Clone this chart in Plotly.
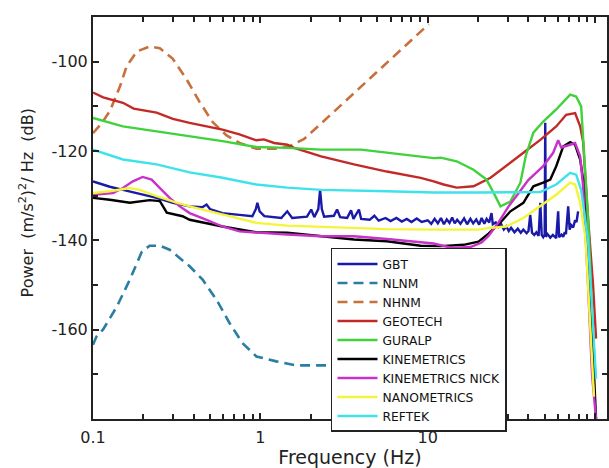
import plotly.graph_objects as go

# ---------------- data (frequency in Hz, power in dB) ----------------
GBT_f = [0.1, 0.126, 0.151, 0.2, 0.24, 0.3, 0.378, 0.45, 0.477, 0.5, 0.594, 0.75, 0.896, 0.94, 0.96, 0.99,
         1.057, 1.334, 1.448, 1.55, 1.9, 2.013, 2.1, 2.22, 2.275, 2.33, 2.404, 2.75, 2.873, 3.0, 3.3, 3.482,
         3.6, 3.882, 4.0, 4.5, 4.8, 5.1, 5.6, 6.0, 6.5, 7.0, 7.5, 8.0, 8.6, 9.2,
         10.0, 10.5, 11, 11.5, 12, 12.5, 13, 13.5, 14, 14.5, 15, 15.7, 16.5, 17.2, 18, 18.7, 19.5, 20.3,
         21, 21.8, 22.5, 23.3, 24.06, 24.5, 25.5, 26.5, 27.5, 28.5, 29.5, 30.5, 31.5, 33, 34.5, 36, 37.3,
         39, 40, 41.0, 42, 43.3, 44.6, 46, 47.1, 48, 49, 50.0, 50.4, 50.8, 52, 54.0, 56, 58.6, 60.2, 61,
         63, 64.5, 66, 67, 69.1, 70.5, 72, 74.0, 76, 77.5, 79.2]
GBT_db = [-126.8, -128, -128.7, -129.8, -130.5, -131.6, -132.4, -132.6, -132.0, -133.0, -133.9, -134.3, -134.6,
          -133, -131.6, -133.5, -134.6, -135.0, -133.5, -135.0, -134.7, -133.1, -134.8, -133, -128.7, -133,
          -134.7, -134.5, -133.1, -134.8, -135.0, -133.3, -135.2, -133.1, -135.2, -135.4, -134.5, -135.6,
          -135.0, -135.7, -135.0, -135.8, -135.2, -135.9, -135.1, -135.9,
          -135.5, -136.3, -135.2, -136.2, -135.0, -136.4, -135.3, -136.1, -134.9, -136.2, -135.4, -136.3,
          -135.1, -136.4, -135.2, -136.2, -135.3, -136.5, -135.0, -136.3, -135.2, -136.0, -133.9, -136.4,
          -136.0, -137.0, -136.4, -137.6, -136.9, -137.9, -137.2, -138.2, -137.4, -138.3, -137.6, -138.4,
          -137.9, -134.3, -138.3, -138.8, -138.2, -139.0, -131.6, -138.8, -139.3, -138.7, -113.7, -139.2,
          -138.6, -139.4, -138.8, -139.5, -133.5, -139.3, -138.7, -139.2, -138.2, -138.6, -132.4, -137.6,
          -136.6, -137.1, -135.5, -135.9, -133.5]

NLNM_f = [0.1, 0.105, 0.1147, 0.139, 0.166, 0.196, 0.218, 0.251, 0.287, 0.378, 0.452, 0.547, 0.654,
          0.781, 0.947, 1.245, 1.638, 2.339, 5, 10]
NLNM_db = [-163.4, -161.5, -160, -154.8, -148.8, -142.5, -141.2, -141.2, -142.1, -145.8, -148.8, -153.3,
           -158.5, -163, -166, -167.1, -168, -168, -168, -168]

NHNM_f = [0.1, 0.113, 0.126, 0.135, 0.145, 0.159, 0.183, 0.218, 0.251, 0.299, 0.363, 0.433, 0.518, 0.628,
          0.75, 0.947, 1.21, 1.489, 1.827, 2.575, 3.882, 5.86, 7.71, 10.14]
NHNM_db = [-116, -113.7, -111.1, -108.5, -105.5, -101, -97.7, -96.6, -97, -99.3, -104, -109, -113.5, -116.5,
           -118.2, -119.5, -119.5, -119, -117.3, -112.2, -106.0, -99.8, -95.7, -91.6]

GEOTECH_f = [0.1, 0.115, 0.151, 0.175, 0.24, 0.3, 0.378, 0.45, 0.594, 0.75, 0.947, 1.05, 1.21, 1.45, 1.593,
             2.307, 3.629, 5.70, 9.08, 10.86, 12.45, 14.89, 18.79, 23.73, 29.5, 37.3, 47.1, 58.6, 67.2,
             76.0, 81.5, 84.9, 90.8, 97.3, 101.4]
GEOTECH_db = [-106.9, -108.0, -109.2, -110.5, -111.4, -112.8, -113.7, -114.3, -115.2, -116.3, -117.6, -117.4,
              -118.2, -118.6, -119.3, -121.2, -123.0, -124.6, -126.0, -126.8, -127.5, -128.2, -127.9, -126.0,
              -123.4, -120.4, -117.5, -114.5, -111.9, -111.5, -114.5, -118, -135, -150, -162]

GURALP_f = [0.1, 0.151, 0.24, 0.378, 0.594, 0.947, 1.448, 2.307, 3.99, 7.2, 10.86, 11.95, 14.89, 18.79,
            22.46, 24.72, 27.21, 31.2, 35.8, 38.6, 42.8, 49.0, 58.6, 71.0, 77.1, 82.6, 84.9, 87.2, 90.8,
            95.9, 100]
GURALP_db = [-112.6, -114.5, -115.6, -116.7, -117.8, -119.1, -119.3, -119.7, -119.7, -120.8, -121.6, -121.5,
             -122.3, -124.2, -126.4, -129.3, -132.4, -131.3, -127.1, -121, -115.9, -113.4, -110.7, -107.4,
             -107.8, -110, -116.7, -124, -135, -155, -170]

KINEMETRICS_f = [0.1, 0.126, 0.166, 0.218, 0.251, 0.276, 0.343, 0.378, 0.594, 0.947, 1.448, 2.307, 3.629,
                 5.70, 7.20, 9.08, 12, 16.38, 20.12, 23.09, 27.21, 31.2, 37.3, 42.8, 49.0, 54.0, 58.6, 64.5,
                 71.0, 76.0, 81.5, 84.9, 90.8, 95.9, 101.4]
KINEMETRICS_db = [-130.5, -130.9, -131.6, -131.0, -131.2, -133.8, -134.6, -135.4, -136.9, -138.2, -138.3,
                  -139.1, -139.8, -140.2, -140.7, -141.2, -141.3, -141.0, -140.3, -138.5, -136.0, -133.5,
                  -131.6, -127.9, -127.1, -126.4, -123.4, -119.0, -118.0, -118.6, -121.9, -126.4, -145,
                  -160, -180]

NICK_f = [0.1, 0.1316, 0.151, 0.173, 0.198, 0.224, 0.251, 0.287, 0.330, 0.378, 0.477, 0.594, 0.75, 0.947,
          1.448, 2.307, 3.629, 5.70, 9.08, 10.86, 14.0, 18.0, 21, 23.09, 26.49, 30.3, 34.8, 39.9, 49.0, 56.2,
          60.2, 62.8, 71.0, 76.0, 81.5, 84.9, 90.8, 95.9, 101.4]
NICK_db = [-129.8, -129.4, -128.3, -126.8, -125.8, -126.4, -128.3, -130.5, -132.4, -133.9, -135.4, -136.9,
           -138.0, -138.3, -138.7, -139.1, -139.1, -139.7, -140.4, -140.7, -141.7, -141.5, -140.5, -139,
           -136, -132.5, -129.5, -126.5, -123.4, -120.4, -117.6, -119.2, -118.6, -118.2, -121.2, -128,
           -150, -170, -180]

NANO_f = [0.1, 0.126, 0.166, 0.19, 0.24, 0.299, 0.378, 0.594, 0.947, 1.448, 2.307, 3.629, 5.70, 10.86, 20,
          23.73, 29.5, 37.3, 47.1, 58.6, 71.0, 76.0, 81.5, 87.2, 88.4, 92.1, 95.9, 98.6]
NANO_db = [-129.4, -129.0, -128.3, -128.7, -130.1, -131.3, -132.4, -134.3, -136.1, -136.7, -137.0, -137.2,
           -137.5, -137.6, -137.6, -137.2, -136.9, -135.0, -132.4, -129.8, -127.1, -127.5, -131.6, -139,
           -142, -155, -167, -175]

REFTEK_f = [0.1, 0.151, 0.24, 0.378, 0.594, 0.947, 1.448, 2.307, 5.70, 10.86, 20, 35, 47.1, 58.6, 71.0, 77.1,
            82.6, 90.8, 97.3, 101.4]
REFTEK_db = [-119.7, -121.9, -123.0, -124.8, -126.0, -127.5, -128.2, -128.7, -129.0, -129.3, -129.3, -129.3,
             -129.2, -127.5, -124.9, -125.3, -128.7, -140, -158, -171]

X_MAJOR = [0.1, 1, 10, 100]
X_MAJOR_LABELS = ["0.1", "1", "10", "100"]
X_MINOR = [0.2, 0.3, 0.4, 0.5, 0.6, 0.7, 0.8, 0.9, 2, 3, 4, 5, 6, 7, 8, 9,
           20, 30, 40, 50, 60, 70, 80, 90]
Y_MAJOR = [-160, -140, -120, -100]
Y_MAJOR_LABELS = ["-160", "-140", "-120", "-100"]
Y_MINOR = [-170, -150, -130, -110]

series = [
    ("GBT", GBT_f, GBT_db, "#1a1aa8", "solid", 2.4),
    ("NLNM", NLNM_f, NLNM_db, "#2a7ea2", "10px,6px", 2.6),
    ("NHNM", NHNM_f, NHNM_db, "#c8703c", "10px,6px", 2.6),
    ("GEOTECH", GEOTECH_f, GEOTECH_db, "#c22a28", "solid", 2.4),
    ("GURALP", GURALP_f, GURALP_db, "#3fd23a", "solid", 2.4),
    ("KINEMETRICS", KINEMETRICS_f, KINEMETRICS_db, "#000000", "solid", 2.4),
    ("KINEMETRICS NICK", NICK_f, NICK_db, "#c832c8", "solid", 2.4),
    ("NANOMETRICS", NANO_f, NANO_db, "#f4f43a", "solid", 2.4),
    ("REFTEK", REFTEK_f, REFTEK_db, "#3ee2ea", "solid", 2.4),
]

fig = go.Figure()
for name, f, db, color, dash, w in series:
    fig.add_trace(go.Scatter(x=f, y=db, mode="lines", name=name,
                             line=dict(color=color, dash=dash, width=w)))

AXFONT = dict(family="DejaVu Sans", size=16, color="#222222")
AXC = "#222222"

fig.update_layout(
    width=609, height=468,
    margin=dict(l=93, r=0, t=17, b=49),
    paper_bgcolor="white", plot_bgcolor="white",
    showlegend=True,
    legend=dict(x=0.463, y=0.4254, xanchor="left", yanchor="top",
                bgcolor="white", bordercolor=AXC, borderwidth=1.5,
                font=dict(family="DejaVu Sans", size=12.3, color="#111111"),
                itemwidth=40, tracegroupgap=0),
    xaxis=dict(type="log", range=[-1, 2.0714],
               tickmode="array", tickvals=X_MAJOR, ticktext=X_MAJOR_LABELS,
               ticks="inside", ticklen=6, tickwidth=1.5, tickcolor=AXC,
               minor=dict(tickmode="array", tickvals=X_MINOR, ticks="inside", ticklen=5,
                          tickwidth=1.5, tickcolor=AXC, showgrid=False),
               ticklabelstandoff=3,
               showline=True, linecolor=AXC, linewidth=2, mirror="allticks",
               showgrid=False, zeroline=False, tickfont=AXFONT,
               title=dict(text="Frequency (Hz)", font=dict(family="DejaVu Sans", size=19, color=AXC),
                          standoff=2)),
    yaxis=dict(range=[-180, -90],
               tickmode="array", tickvals=Y_MAJOR, ticktext=Y_MAJOR_LABELS,
               ticks="inside", ticklen=6, tickwidth=1.5, tickcolor=AXC,
               minor=dict(tickmode="array", tickvals=Y_MINOR, ticks="inside", ticklen=5,
                          tickwidth=1.5, tickcolor=AXC, showgrid=False),
               showline=True, linecolor=AXC, linewidth=2, mirror="allticks",
               showgrid=False, zeroline=False, tickfont=AXFONT,
               title=dict(text="&nbsp;" * 6 + "Power  (m/s<sup>2</sup>)<sup>2</sup>/ Hz  (dB)",
                          font=dict(family="DejaVu Sans", size=16, color=AXC), standoff=14)),
)

fig.write_html("out.html")
